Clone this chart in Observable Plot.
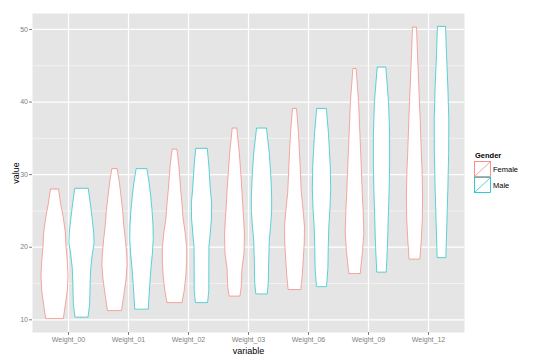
<!DOCTYPE html>
<html><head><meta charset="utf-8">
<script src="https://cdn.jsdelivr.net/npm/d3@7"></script>
<script src="https://cdn.jsdelivr.net/npm/@observablehq/plot@0.6"></script>
<style>
body{margin:0;background:#fff;font-family:"Liberation Sans",Arial,sans-serif;}
#wrap{position:relative;width:540px;height:362px;}
.lg{position:absolute;font-family:"Liberation Sans",Arial,sans-serif;color:#000;white-space:nowrap;}
</style></head><body><div id="wrap"></div>
<script>
const categories = ["Weight_00","Weight_01","Weight_02","Weight_03","Weight_06","Weight_09","Weight_12"];
const genders = ["Female","Male"];
const colors = ["#F8766D","#00BFC4"];
const yTicks = [10,20,30,40,50];
const yMinor = [15,25,35,45];

// violin outlines: [value, relative half-width]
const femaleProfiles = [
  [[27.9,0.3],[26,0.45],[24,0.65],[22,0.8],[20,0.85],[18,0.95],[16,1.0],[14,0.95],[12,0.8],[10.1,0.65]],
  [[30.7,0.2],[29,0.35],[27,0.48],[25,0.6],[23,0.68],[21,0.8],[19,0.9],[17.5,0.93],[15.5,0.85],[13.5,0.7],[11.2,0.52]],
  [[33.4,0.18],[31,0.33],[28,0.45],[26,0.55],[24,0.63],[22,0.78],[20,0.9],[18,0.9],[16,0.84],[14,0.72],[12.3,0.55]],
  [[36.3,0.17],[33,0.35],[30.5,0.45],[28,0.54],[26,0.6],[24,0.67],[21.5,0.74],[19,0.7],[17,0.55],[14.5,0.5],[13.2,0.4]],
  [[39.0,0.15],[35.5,0.3],[31,0.42],[27.5,0.5],[25,0.64],[22.7,0.74],[20.5,0.72],[18,0.64],[16,0.57],[14.1,0.47]],
  [[44.5,0.12],[40,0.3],[35.5,0.4],[31,0.5],[27.5,0.57],[25,0.64],[22,0.69],[19.5,0.6],[16.3,0.42]],
  [[50.2,0.15],[46.5,0.22],[42,0.32],[37.5,0.42],[33,0.5],[30.5,0.56],[27,0.6],[24,0.58],[21,0.5],[18.3,0.4]]
];
const maleProfiles = [
  [[28.0,0.5],[26,0.65],[24,0.78],[22,0.9],[20.5,0.93],[19,0.8],[17,0.68],[15,0.64],[12,0.6],[10.3,0.48]],
  [[30.7,0.4],[29,0.55],[27,0.68],[25,0.78],[23,0.85],[21,0.87],[19,0.8],[17,0.7],[15,0.62],[13,0.55],[11.4,0.5]],
  [[33.5,0.43],[31,0.55],[28,0.65],[26,0.75],[24,0.74],[22,0.65],[20,0.55],[17,0.54],[14,0.54],[12.3,0.45]],
  [[36.3,0.37],[33,0.57],[30,0.68],[27,0.75],[25,0.75],[23,0.68],[21,0.58],[18,0.53],[15,0.5],[13.5,0.42]],
  [[39.0,0.36],[35.5,0.52],[31,0.65],[28,0.68],[25,0.62],[22.7,0.54],[20,0.5],[17,0.47],[14.5,0.37]],
  [[44.7,0.32],[40,0.52],[35.5,0.6],[31,0.6],[27.5,0.56],[24,0.5],[20.5,0.45],[16.5,0.35]],
  [[50.3,0.3],[46.5,0.37],[42,0.47],[37.5,0.54],[33,0.53],[28,0.47],[23.5,0.4],[18.5,0.32]]
];

const dodge = 0.225, halfMax = 0.225;
const rows = [];
[femaleProfiles, maleProfiles].forEach((profiles, g) => {
  profiles.forEach((prof, i) => {
    const center = i + 1 + (g === 0 ? -dodge : dodge);
    prof.forEach(([v, w]) => rows.push({key: genders[g] + i, gender: genders[g], value: v, x1: center - w * halfMax, x2: center + w * halfMax}));
  });
});
const xPos = categories.map((c, i) => i + 1);

const chart = Plot.plot({
  width: 540, height: 362,
  marginLeft: 32, marginRight: 76, marginTop: 13, marginBottom: 30,
  style: {fontFamily: '"Liberation Sans", Arial, sans-serif', background: "#fff"},
  x: {domain: [0.4, 7.6]},
  y: {domain: [8.25, 52.2]},
  color: {domain: genders, range: colors},
  marks: [
    Plot.frame({fill: "#E5E5E5", stroke: null}),
    Plot.gridY(yMinor, {stroke: "#F2F2F2", strokeOpacity: 1, strokeWidth: 1}),
    Plot.gridY(yTicks, {stroke: "#fff", strokeOpacity: 1, strokeWidth: 1.2}),
    Plot.gridX(xPos, {stroke: "#fff", strokeOpacity: 1, strokeWidth: 1.2}),
    Plot.areaX(rows, {y: "value", x1: "x1", x2: "x2", z: "key", fill: "white", stroke: "gender", strokeWidth: 0.7, strokeOpacity: 0.9, curve: "linear"}),
    Plot.axisY(yTicks, {tickSize: 3, tickPadding: 1.5, fontSize: 7, color: "#7F7F7F", label: "value", labelAnchor: "center", labelArrow: "none", labelOffset: 20}),
    Plot.axisX(xPos, {tickSize: 3, tickPadding: 2, fontSize: 7, color: "#7F7F7F", tickFormat: d => categories[d - 1], label: "variable", labelAnchor: "center", labelArrow: "none", labelOffset: 21})
  ]
});
d3.select(chart).selectAll("g[aria-label='y-axis label'] text, g[aria-label='x-axis label'] text")
  .attr("fill", "#000").style("font-size", "9px");
const wrap = document.getElementById("wrap");
wrap.appendChild(chart);

// legend
const t = document.createElement("div");
t.className = "lg"; t.textContent = "Gender";
Object.assign(t.style, {left: "475px", top: "151px", fontWeight: "bold", fontSize: "7.5px"});
wrap.appendChild(t);
genders.forEach((g, i) => {
  const svg = d3.create("svg").attr("width", 18).attr("height", 16)
    .style("position", "absolute").style("left", "474px").style("top", (161 + 15.5 * i) + "px");
  svg.append("rect").attr("x", 0.5).attr("y", 0.5).attr("width", 16).attr("height", 15).attr("fill", "#fff").attr("stroke", colors[i]).attr("stroke-width", 0.8);
  svg.append("line").attr("x1", 0.5).attr("y1", 15.5).attr("x2", 16.5).attr("y2", 0.5).attr("stroke", colors[i]).attr("stroke-width", 0.7);
  wrap.appendChild(svg.node());
  const l = document.createElement("div");
  l.className = "lg"; l.textContent = g;
  Object.assign(l.style, {left: "493px", top: (165 + 15.5 * i) + "px", fontSize: "7.5px"});
  wrap.appendChild(l);
});
</script></body></html>
